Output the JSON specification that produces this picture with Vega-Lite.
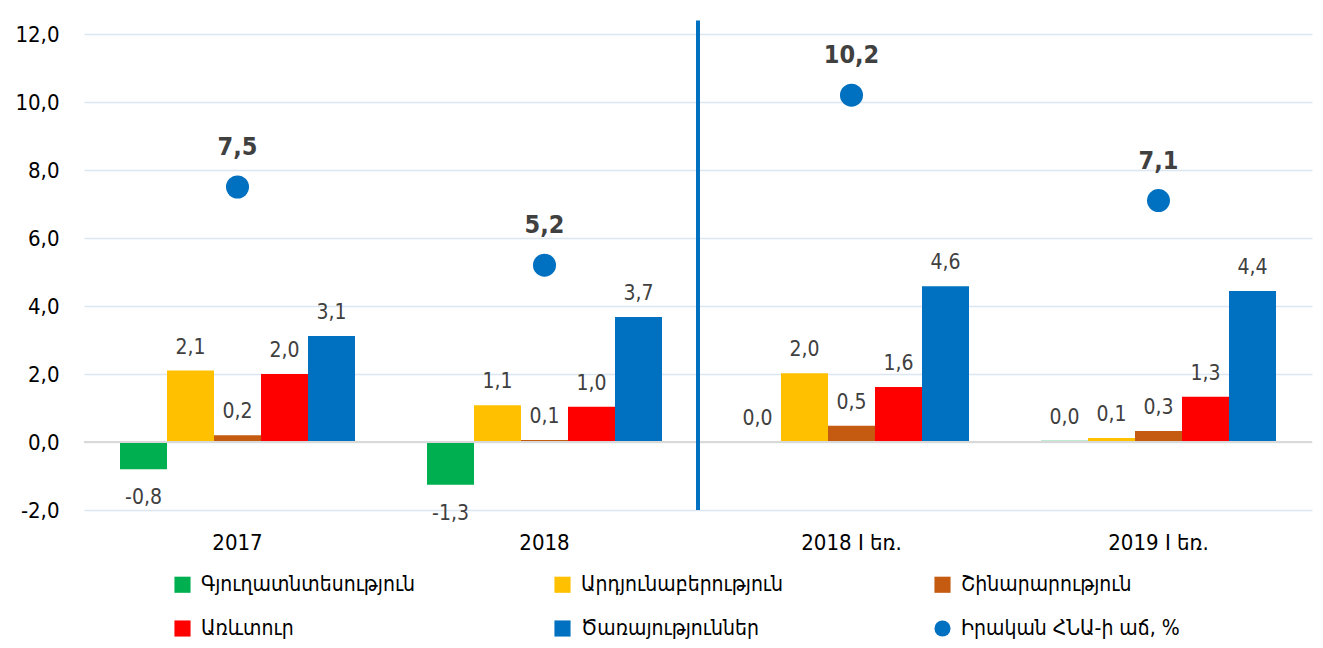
{
  "$schema": "https://vega.github.io/schema/vega-lite/v6.json",
  "width": 1228,
  "height": 476,
  "autosize": {"type": "none"},
  "padding": {"left": 84, "top": 34, "right": 11, "bottom": 138},
  "background": "white",
  "config": {
    "locale": {"number": {"decimal": ",", "thousands": " ", "grouping": [3], "currency": ["", ""], "minus": "-"}},
    "font": "DejaVu Sans Condensed, DejaVu Sans",
    "view": {"stroke": null}
  },
  "datasets": {
    "bars": [
      {"cat": "2017", "series": "Գյուղատնտեսություն", "value": -0.8},
      {"cat": "2017", "series": "Արդյունաբերություն", "value": 2.1},
      {"cat": "2017", "series": "Շինարարություն", "value": 0.2},
      {"cat": "2017", "series": "Առևտուր", "value": 2.0},
      {"cat": "2017", "series": "Ծառայություններ", "value": 3.12},
      {"cat": "2018", "series": "Գյուղատնտեսություն", "value": -1.26},
      {"cat": "2018", "series": "Արդյունաբերություն", "value": 1.08},
      {"cat": "2018", "series": "Շինարարություն", "value": 0.06},
      {"cat": "2018", "series": "Առևտուր", "value": 1.04},
      {"cat": "2018", "series": "Ծառայություններ", "value": 3.68},
      {"cat": "2018 I եռ.", "series": "Գյուղատնտեսություն", "value": 0.01},
      {"cat": "2018 I եռ.", "series": "Արդյունաբերություն", "value": 2.02},
      {"cat": "2018 I եռ.", "series": "Շինարարություն", "value": 0.48},
      {"cat": "2018 I եռ.", "series": "Առևտուր", "value": 1.62},
      {"cat": "2018 I եռ.", "series": "Ծառայություններ", "value": 4.58},
      {"cat": "2019 I եռ.", "series": "Գյուղատնտեսություն", "value": 0.04},
      {"cat": "2019 I եռ.", "series": "Արդյունաբերություն", "value": 0.12},
      {"cat": "2019 I եռ.", "series": "Շինարարություն", "value": 0.32},
      {"cat": "2019 I եռ.", "series": "Առևտուր", "value": 1.33},
      {"cat": "2019 I եռ.", "series": "Ծառայություններ", "value": 4.44}
    ],
    "gdp": [
      {"cat": "2017", "series": "Իրական ՀՆԱ-ի աճ, %", "value": 7.5},
      {"cat": "2018", "series": "Իրական ՀՆԱ-ի աճ, %", "value": 5.2},
      {"cat": "2018 I եռ.", "series": "Իրական ՀՆԱ-ի աճ, %", "value": 10.2},
      {"cat": "2019 I եռ.", "series": "Իրական ՀՆԱ-ի աճ, %", "value": 7.1}
    ],
    "divider": [{"cat": "2018 I եռ.", "from": -2, "to": 12.4}]
  },
  "layer": [
    {
      "data": {"name": "bars"},
      "mark": {"type": "bar"},
      "encoding": {
        "x": {
          "field": "cat", "type": "nominal",
          "sort": ["2017", "2018", "2018 I եռ.", "2019 I եռ."],
          "scale": {"paddingInner": 0, "paddingOuter": 0},
          "axis": {"title": null, "labelAngle": 0, "domain": false, "ticks": false, "labelFontSize": 22, "labelColor": "#000000", "labelPadding": 22}
        },
        "xOffset": {
          "field": "series", "type": "nominal",
          "sort": ["Գյուղատնտեսություն", "Արդյունաբերություն", "Շինարարություն", "Առևտուր", "Ծառայություններ"],
          "scale": {"paddingInner": 0, "paddingOuter": 0.766}
        },
        "y": {
          "field": "value", "type": "quantitative",
          "scale": {"domain": [-2, 12], "nice": false},
          "axis": {"title": null, "values": [-2, 0, 2, 4, 6, 8, 10, 12], "format": ".1f", "domain": false, "ticks": false, "grid": true, "gridColor": "#dce6f2", "gridWidth": 1.5, "labelFontSize": 22, "labelColor": "#000000", "labelPadding": 25}
        },
        "color": {
          "field": "series", "type": "nominal",
          "scale": {
            "domain": ["Գյուղատնտեսություն", "Արդյունաբերություն", "Շինարարություն", "Առևտուր", "Ծառայություններ", "Իրական ՀՆԱ-ի աճ, %"],
            "range": ["#00b050", "#ffc000", "#c55a11", "#ff0000", "#0070c0", "#0070c0"]
          },
          "legend": {
            "title": null, "orient": "none", "direction": "horizontal", "legendX": 88, "legendY": 540, "columns": 3, "gridAlign": "all",
            "columnPadding": 132, "rowPadding": 22, "symbolSize": 260, "labelFontSize": 21, "labelColor": "#000000", "labelOffset": 8, "labelLimit": 400
          }
        }
      }
    },
    {
      "data": {"name": "bars"},
      "mark": {"type": "rule", "color": "#d9d9d9", "strokeWidth": 2},
      "encoding": {"y": {"datum": 0, "type": "quantitative"}}
    },
    {
      "data": {"name": "bars"},
      "transform": [{"filter": "datum.value >= 0"}],
      "mark": {"type": "text", "baseline": "alphabetic", "dy": -17, "fontSize": 21, "color": "#404040"},
      "encoding": {
        "x": {"field": "cat", "type": "nominal", "sort": ["2017", "2018", "2018 I եռ.", "2019 I եռ."]},
        "xOffset": {"field": "series", "type": "nominal", "sort": ["Գյուղատնտեսություն", "Արդյունաբերություն", "Շինարարություն", "Առևտուր", "Ծառայություններ"]},
        "y": {"field": "value", "type": "quantitative"},
        "text": {"field": "value", "type": "quantitative", "format": ".1f"}
      }
    },
    {
      "data": {"name": "bars"},
      "transform": [{"filter": "datum.value < 0"}],
      "mark": {"type": "text", "baseline": "top", "dy": 18, "fontSize": 21, "color": "#404040"},
      "encoding": {
        "x": {"field": "cat", "type": "nominal", "sort": ["2017", "2018", "2018 I եռ.", "2019 I եռ."]},
        "xOffset": {"field": "series", "type": "nominal", "sort": ["Գյուղատնտեսություն", "Արդյունաբերություն", "Շինարարություն", "Առևտուր", "Ծառայություններ"]},
        "y": {"field": "value", "type": "quantitative"},
        "text": {"field": "value", "type": "quantitative", "format": ".1f"}
      }
    },
    {
      "data": {"name": "divider"},
      "mark": {"type": "rule", "color": "#0070c0", "strokeWidth": 4, "clip": false},
      "encoding": {
        "x": {"field": "cat", "type": "nominal", "bandPosition": 0, "sort": ["2017", "2018", "2018 I եռ.", "2019 I եռ."]},
        "y": {"field": "from", "type": "quantitative"},
        "y2": {"field": "to"}
      }
    },
    {
      "data": {"name": "gdp"},
      "mark": {"type": "point", "filled": true, "opacity": 1, "size": 530},
      "encoding": {
        "x": {"field": "cat", "type": "nominal", "sort": ["2017", "2018", "2018 I եռ.", "2019 I եռ."]},
        "y": {"field": "value", "type": "quantitative"},
        "color": {"field": "series", "type": "nominal"},
        "shape": {
          "field": "series", "type": "nominal",
          "scale": {
            "domain": ["Գյուղատնտեսություն", "Արդյունաբերություն", "Շինարարություն", "Առևտուր", "Ծառայություններ", "Իրական ՀՆԱ-ի աճ, %"],
            "range": ["square", "square", "square", "square", "square", "circle"]
          },
          "legend": {
            "title": null, "orient": "none", "direction": "horizontal", "legendX": 88, "legendY": 540, "columns": 3, "gridAlign": "all",
            "columnPadding": 132, "rowPadding": 22, "symbolSize": 260, "labelFontSize": 21, "labelColor": "#000000", "labelOffset": 8, "labelLimit": 400
          }
        }
      }
    },
    {
      "data": {"name": "gdp"},
      "mark": {"type": "text", "baseline": "alphabetic", "dy": -32, "fontSize": 25, "fontWeight": "bold", "color": "#404040"},
      "encoding": {
        "x": {"field": "cat", "type": "nominal", "sort": ["2017", "2018", "2018 I եռ.", "2019 I եռ."]},
        "y": {"field": "value", "type": "quantitative"},
        "text": {"field": "value", "type": "quantitative", "format": ".1f"}
      }
    }
  ]
}
